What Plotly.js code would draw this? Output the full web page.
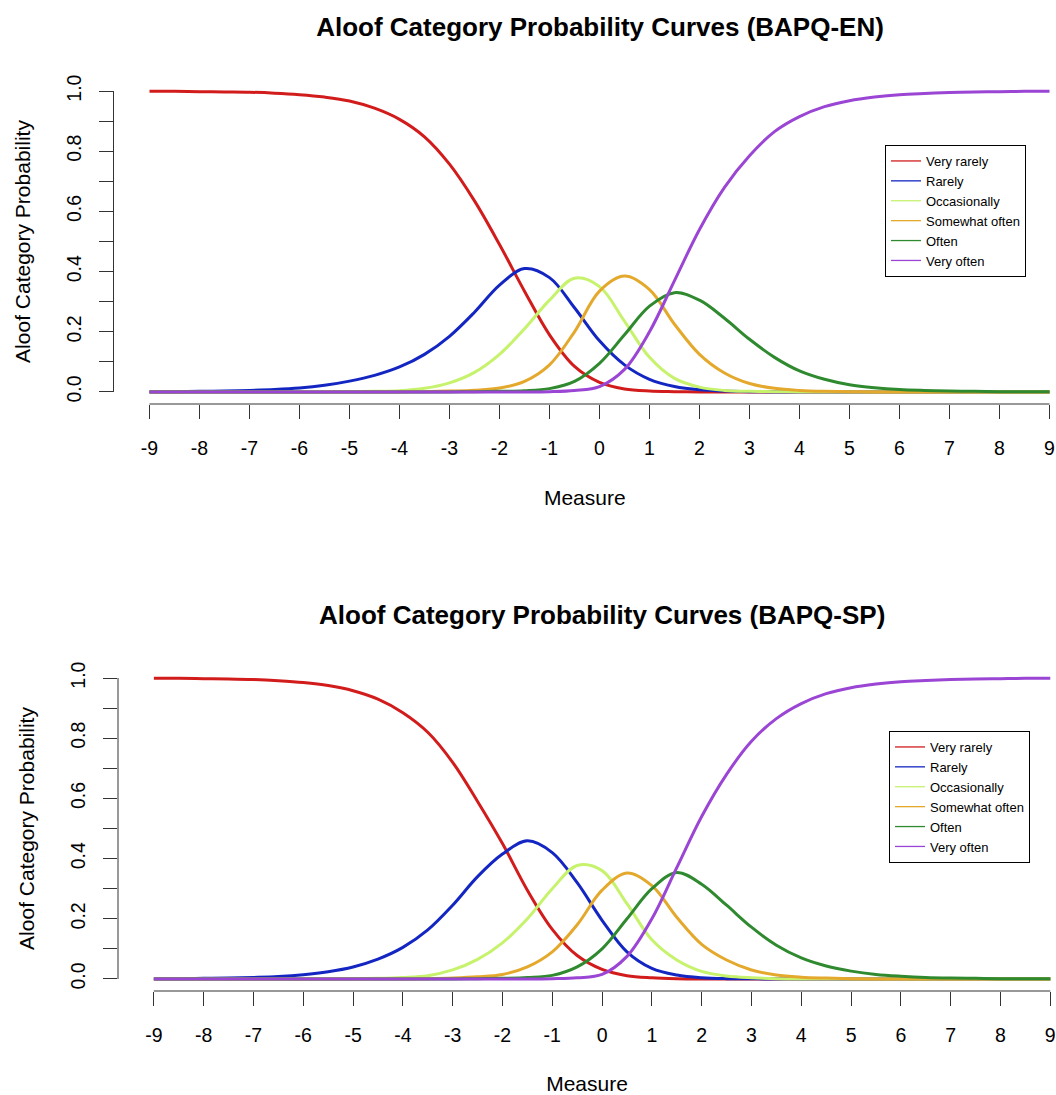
<!DOCTYPE html>
<html>
<head>
<meta charset="utf-8">
<script src="https://cdn.plot.ly/plotly-3.0.1.min.js"></script>
<style>html,body{margin:0;padding:0;background:#fff;}#chart{width:1056px;height:1095px;}</style>
</head>
<body>
<div id="chart"></div>
<script>
// ---------- data ----------
const measure = [-9,-8.5,-8,-7.5,-7,-6.5,-6,-5.5,-5,-4.5,-4,-3.5,-3,-2.5,-2,-1.5,-1,-0.5,0,0.5,1,1.5,2,2.5,3,3.5,4,4.5,5,5.5,6,6.5,7,7.5,8,8.5,9];

const categories = ["Very rarely","Rarely","Occasionally","Somewhat often","Often","Very often"];
const catColors = ["#D21C1C","#1426C2","#C6F26C","#E4A92C","#2F8A2F","#9B45D4"];

// BAPQ-EN
const enVeryRarely = [0.999,0.999,0.998,0.997,0.996,0.993,0.988,0.980,0.967,0.943,0.906,0.848,0.757,0.635,0.490,0.335,0.190,0.085,0.032,0.010,0.003,0.001,0,0,0,0,0,0,0,0,0,0,0,0,0,0,0];
const enRarely = [0.001,0.001,0.002,0.003,0.005,0.008,0.013,0.022,0.036,0.055,0.083,0.125,0.185,0.265,0.355,0.410,0.380,0.280,0.170,0.090,0.042,0.018,0.007,0.003,0.001,0,0,0,0,0,0,0,0,0,0,0,0];
const enOccasionally = [0,0,0,0,0,0,0,0,0.001,0.002,0.004,0.012,0.030,0.065,0.125,0.210,0.305,0.378,0.350,0.235,0.115,0.045,0.016,0.005,0.002,0.001,0,0,0,0,0,0,0,0,0,0,0];
const enSomewhatOften = [0,0,0,0,0,0,0,0,0,0,0,0.001,0.003,0.006,0.013,0.035,0.090,0.200,0.335,0.385,0.340,0.225,0.125,0.063,0.028,0.012,0.005,0.002,0.001,0,0,0,0,0,0,0,0];
const enOften = [0,0,0,0,0,0,0,0,0,0,0,0,0,0.001,0.002,0.004,0.011,0.035,0.095,0.190,0.285,0.330,0.305,0.245,0.175,0.115,0.070,0.042,0.024,0.014,0.008,0.005,0.003,0.002,0.001,0.001,0.0005];
const enVeryOften = [0,0,0,0,0,0,0,0,0,0,0,0,0,0,0,0,0.001,0.005,0.018,0.075,0.200,0.370,0.540,0.680,0.785,0.865,0.915,0.948,0.968,0.980,0.988,0.992,0.995,0.997,0.998,0.999,0.999];

// BAPQ-SP
const spVeryRarely = [0.999,0.999,0.998,0.997,0.995,0.991,0.985,0.975,0.958,0.930,0.885,0.820,0.720,0.590,0.450,0.295,0.165,0.078,0.032,0.011,0.004,0.001,0,0,0,0,0,0,0,0,0,0,0,0,0,0,0];
const spRarely = [0.001,0.001,0.002,0.003,0.005,0.008,0.014,0.024,0.040,0.066,0.105,0.163,0.245,0.340,0.415,0.459,0.420,0.320,0.195,0.090,0.035,0.013,0.004,0.001,0.0005,0,0,0,0,0,0,0,0,0,0,0,0];
const spOccasionally = [0,0,0,0,0,0,0,0,0.001,0.002,0.005,0.011,0.030,0.065,0.120,0.200,0.300,0.377,0.360,0.250,0.130,0.063,0.025,0.010,0.004,0.001,0,0,0,0,0,0,0,0,0,0,0];
const spSomewhatOften = [0,0,0,0,0,0,0,0,0,0,0,0.001,0.003,0.007,0.015,0.040,0.090,0.180,0.295,0.352,0.310,0.205,0.115,0.063,0.030,0.013,0.006,0.003,0.001,0,0,0,0,0,0,0,0];
const spOften = [0,0,0,0,0,0,0,0,0,0,0,0,0,0.001,0.002,0.005,0.012,0.040,0.100,0.200,0.300,0.354,0.315,0.245,0.172,0.112,0.070,0.043,0.026,0.015,0.009,0.005,0.003,0.002,0.001,0.001,0.0005];
const spVeryOften = [0,0,0,0,0,0,0,0,0,0,0,0,0,0,0,0,0.001,0.004,0.015,0.075,0.200,0.370,0.540,0.680,0.790,0.865,0.915,0.948,0.968,0.980,0.988,0.992,0.995,0.997,0.998,0.999,0.999];

const xTickVals = [-9,-8,-7,-6,-5,-4,-3,-2,-1,0,1,2,3,4,5,6,7,8,9];
const yTickVals = [0,0.1,0.2,0.3,0.4,0.5,0.6,0.7,0.8,0.9,1];
const yTickText = ["0.0","","0.2","","0.4","","0.6","","0.8","","1.0"];

const titleEN = "Aloof Category Probability Curves (BAPQ-EN)";
const titleSP = "Aloof Category Probability Curves (BAPQ-SP)";
const yTitle = "Aloof Category Probability";
const xTitle = "Measure";

// ---------- build ----------
const W = 1056, H = 1095;
const FONT = "Liberation Sans, Arial, Helvetica, sans-serif";
const px = v => v / W;
const py = v => 1 - v / H;

const enSeries = [enVeryRarely, enRarely, enOccasionally, enSomewhatOften, enOften, enVeryOften];
const spSeries = [spVeryRarely, spRarely, spOccasionally, spSomewhatOften, spOften, spVeryOften];

const traces = [];
function addPanel(series, xa, ya, legendId) {
  series.forEach((vals, i) => {
    traces.push({
      type: "scatter", mode: "lines", x: measure, y: vals,
      xaxis: xa, yaxis: ya, name: categories[i], showlegend: false,
      line: {color: catColors[i], width: 3, shape: "spline", smoothing: 1},
      hoverinfo: "x+y+name"
    });
  });
  // thin legend samples like the original legend
  series.forEach((vals, i) => {
    traces.push({
      type: "scatter", mode: "lines", x: [null], y: [null],
      xaxis: xa, yaxis: ya, name: categories[i], legend: legendId,
      line: {color: catColors[i], width: 1.3}, hoverinfo: "skip"
    });
  });
}
addPanel(enSeries, "x", "y", "legend");
addPanel(spSeries, "x2", "y2", "legend2");

function xAxis(domain, range, anchor) {
  return {
    domain: domain, range: range, anchor: anchor,
    showgrid: false, zeroline: false, showline: false,
    tickmode: "array", tickvals: xTickVals, ticktext: xTickVals.map(String),
    ticks: "outside", ticklen: 14, tickwidth: 1, tickcolor: "#333",
    ticklabelstandoff: 13,
    tickfont: {family: FONT, size: 19.5, color: "#000"},
    title: {text: xTitle, font: {family: FONT, size: 21, color: "#000"}, standoff: 31},
    automargin: false, fixedrange: true
  };
}
function yAxis(domain, anchor) {
  return {
    domain: domain, range: [-0.04, 1.04], anchor: anchor,
    showgrid: false, zeroline: false, showline: false,
    tickmode: "array", tickvals: yTickVals, ticktext: yTickText,
    ticks: "outside", ticklen: 14, tickwidth: 1, tickcolor: "#333",
    tickangle: -90, ticklabelstandoff: 10,
    tickfont: {family: FONT, size: 19.5, color: "#000"},
    title: {text: yTitle, font: {family: FONT, size: 21, color: "#000"}, standoff: 26},
    automargin: false, fixedrange: true
  };
}

const legendBase = {
  xanchor: "left", yanchor: "top",
  bgcolor: "#fff", bordercolor: "#000", borderwidth: 1,
  font: {family: FONT, size: 13, color: "#000"},
  tracegroupgap: 0, itemclick: false, itemdoubleclick: false
};

const layout = {
  width: W, height: H,
  margin: {l: 0, r: 0, t: 0, b: 0},
  paper_bgcolor: "#fff", plot_bgcolor: "#fff",
  showlegend: true,
  title: {
    text: "<b>" + titleEN + "</b>",
    font: {family: FONT, size: 26, color: "#000"},
    x: px(600), xref: "paper", xanchor: "center",
    y: py(27), yref: "container", yanchor: "middle"
  },
  xaxis: xAxis([px(113.5), 1], [-9.72, 9.13], "y"),
  yaxis: yAxis([py(404), py(79)], "x"),
  xaxis2: xAxis([px(118), 1], [-9.72, 9.115], "y2"),
  yaxis2: yAxis([py(991), py(666)], "x2"),
  legend: Object.assign({}, legendBase, {x: px(885), y: py(145)}),
  legend2: Object.assign({}, legendBase, {x: px(889), y: py(731)}),
  annotations: [{
    text: "<b>" + titleSP + "</b>", showarrow: false,
    xref: "paper", yref: "paper", x: px(602), y: py(615),
    xanchor: "center", yanchor: "middle",
    font: {family: FONT, size: 26, color: "#000"}
  }],
  shapes: [
    {type: "line", xref: "x", yref: "paper", x0: -9, x1: 9, y0: py(404), y1: py(404), line: {color: "#333", width: 1}},
    {type: "line", xref: "paper", yref: "y", x0: px(113.5), x1: px(113.5), y0: 0, y1: 1, line: {color: "#333", width: 1}},
    {type: "line", xref: "x2", yref: "paper", x0: -9, x1: 9, y0: py(991), y1: py(991), line: {color: "#333", width: 1}},
    {type: "line", xref: "paper", yref: "y2", x0: px(118), x1: px(118), y0: 0, y1: 1, line: {color: "#333", width: 1}}
  ]
};

Plotly.newPlot("chart", traces, layout, {staticPlot: true, displayModeBar: false});
</script>
</body>
</html>
